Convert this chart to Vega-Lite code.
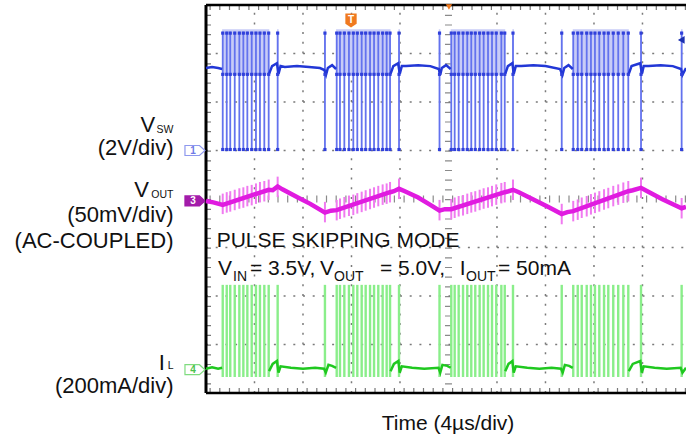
{
"$schema": "https://vega.github.io/schema/vega-lite/v6.json",
"width": 480, "height": 388,
"autosize": {"type": "none"},
"padding": {"left": 206, "top": 5, "right": 0, "bottom": 45},
"background": "white",
"config": {"view": {"stroke": null}, "text": {"font": "Liberation Sans"}},
"datasets": {
"one": [{}],
"gx": [{"t":4},{"t":8},{"t":12},{"t":16},{"t":24},{"t":28},{"t":32},{"t":36}],
"gy": [{"v":1},{"v":2},{"v":3},{"v":5},{"v":6},{"v":7}],
"sh": [{"t0":1.33,"t1":5.22},{"t0":5.86,"t1":5.99},{"t0":9.76,"t1":9.89},{"t0":10.73,"t1":15.22},{"t0":15.87,"t1":16.0},{"t0":19.2,"t1":19.33},{"t0":20.18,"t1":24.68},{"t0":25.27,"t1":25.4},{"t0":29.28,"t1":29.41},{"t0":30.25,"t1":34.87},{"t0":35.82,"t1":35.96},{"t0":39.18,"t1":39.31}],
"p": [
{"t":1.38,"vo":3.90},{"t":1.71,"vo":3.93},{"t":2.00,"vo":3.95},{"t":2.37,"vo":3.98},{"t":2.75,"vo":4.01},{"t":3.08,"vo":4.03},{"t":3.41,"vo":4.06},{"t":3.77,"vo":4.08},{"t":4.12,"vo":4.11},{"t":4.45,"vo":4.14},{"t":4.81,"vo":4.16},{"t":5.17,"vo":4.19},
{"t":5.91,"vo":4.25},{"t":9.81,"vo":3.73},
{"t":10.78,"vo":3.77},{"t":11.05,"vo":3.80},{"t":11.41,"vo":3.83},{"t":11.79,"vo":3.86},{"t":12.15,"vo":3.88},{"t":12.48,"vo":3.91},{"t":12.84,"vo":3.94},{"t":13.17,"vo":3.97},{"t":13.53,"vo":4.00},{"t":13.86,"vo":4.03},{"t":14.21,"vo":4.06},{"t":14.57,"vo":4.09},{"t":14.90,"vo":4.11},{"t":15.18,"vo":4.14},
{"t":15.92,"vo":4.21},{"t":19.26,"vo":3.77},
{"t":20.23,"vo":3.79},{"t":20.51,"vo":3.82},{"t":20.84,"vo":3.85},{"t":21.20,"vo":3.87},{"t":21.55,"vo":3.90},{"t":21.88,"vo":3.93},{"t":22.21,"vo":3.95},{"t":22.57,"vo":3.98},{"t":22.90,"vo":4.01},{"t":23.26,"vo":4.03},{"t":23.59,"vo":4.06},{"t":23.94,"vo":4.09},{"t":24.36,"vo":4.12},{"t":24.64,"vo":4.14},
{"t":25.32,"vo":4.19},{"t":29.34,"vo":3.69},
{"t":30.29,"vo":3.75},{"t":30.66,"vo":3.78},{"t":30.99,"vo":3.82},{"t":31.40,"vo":3.85},{"t":31.75,"vo":3.89},{"t":32.08,"vo":3.92},{"t":32.44,"vo":3.95},{"t":32.83,"vo":3.99},{"t":33.18,"vo":4.02},{"t":33.59,"vo":4.06},{"t":34.00,"vo":4.09},{"t":34.42,"vo":4.13},{"t":34.83,"vo":4.16},
{"t":35.88,"vo":4.23},{"t":39.23,"vo":3.81}],
"bl": [
{"s":"a","t":0,"v":6.70},{"s":"a","t":0.5,"v":6.72},{"s":"a","t":1.0,"v":6.70},{"s":"a","t":1.33,"v":6.68},
{"s":"b","t":5.2,"v":6.58},{"s":"b","t":5.45,"v":6.74},{"s":"b","t":5.85,"v":6.8},{"s":"b","t":5.98,"v":6.58},{"s":"b","t":6.15,"v":6.74},{"s":"b","t":6.5,"v":6.72},{"s":"b","t":7.5,"v":6.74},{"s":"b","t":8.5,"v":6.72},{"s":"b","t":9.4,"v":6.7},{"s":"b","t":9.76,"v":6.66},{"s":"b","t":9.9,"v":6.56},{"s":"b","t":10.05,"v":6.7},{"s":"b","t":10.4,"v":6.76},{"s":"b","t":10.73,"v":6.68},
{"s":"c","t":15.22,"v":6.58},{"s":"c","t":15.45,"v":6.74},{"s":"c","t":15.85,"v":6.8},{"s":"c","t":15.98,"v":6.58},{"s":"c","t":16.15,"v":6.74},{"s":"c","t":16.5,"v":6.74},{"s":"c","t":17.5,"v":6.76},{"s":"c","t":18.5,"v":6.74},{"s":"c","t":19.2,"v":6.68},{"s":"c","t":19.32,"v":6.56},{"s":"c","t":19.45,"v":6.7},{"s":"c","t":19.8,"v":6.76},{"s":"c","t":20.18,"v":6.68},
{"s":"d","t":24.68,"v":6.58},{"s":"d","t":24.9,"v":6.74},{"s":"d","t":25.27,"v":6.8},{"s":"d","t":25.38,"v":6.58},{"s":"d","t":25.55,"v":6.74},{"s":"d","t":26.0,"v":6.74},{"s":"d","t":27.0,"v":6.76},{"s":"d","t":28.0,"v":6.74},{"s":"d","t":29.2,"v":6.68},{"s":"d","t":29.4,"v":6.56},{"s":"d","t":29.55,"v":6.7},{"s":"d","t":29.9,"v":6.76},{"s":"d","t":30.25,"v":6.68},
{"s":"e","t":34.87,"v":6.58},{"s":"e","t":35.1,"v":6.74},{"s":"e","t":35.82,"v":6.8},{"s":"e","t":35.95,"v":6.58},{"s":"e","t":36.1,"v":6.74},{"s":"e","t":36.5,"v":6.74},{"s":"e","t":37.5,"v":6.76},{"s":"e","t":38.5,"v":6.74},{"s":"e","t":39.18,"v":6.68},{"s":"e","t":39.3,"v":6.56},{"s":"e","t":39.59,"v":6.7}],
"gl": [
{"s":"a","t":0,"v":0.5},{"s":"a","t":0.5,"v":0.53},{"s":"a","t":1.0,"v":0.5},{"s":"a","t":1.33,"v":0.52},
{"s":"b","t":5.2,"v":0.45},{"s":"b","t":5.5,"v":0.6},{"s":"b","t":5.85,"v":0.66},{"s":"b","t":5.98,"v":0.42},{"s":"b","t":6.15,"v":0.55},{"s":"b","t":7.0,"v":0.52},{"s":"b","t":8.0,"v":0.5},{"s":"b","t":9.0,"v":0.52},{"s":"b","t":9.74,"v":0.5},{"s":"b","t":9.88,"v":0.42},{"s":"b","t":10.1,"v":0.58},{"s":"b","t":10.4,"v":0.56},{"s":"b","t":10.73,"v":0.52},
{"s":"c","t":15.22,"v":0.45},{"s":"c","t":15.5,"v":0.6},{"s":"c","t":15.87,"v":0.66},{"s":"c","t":15.98,"v":0.42},{"s":"c","t":16.15,"v":0.55},{"s":"c","t":17.0,"v":0.52},{"s":"c","t":18.0,"v":0.5},{"s":"c","t":19.18,"v":0.52},{"s":"c","t":19.32,"v":0.42},{"s":"c","t":19.5,"v":0.58},{"s":"c","t":19.9,"v":0.56},{"s":"c","t":20.18,"v":0.52},
{"s":"d","t":24.68,"v":0.45},{"s":"d","t":24.95,"v":0.6},{"s":"d","t":25.27,"v":0.66},{"s":"d","t":25.38,"v":0.42},{"s":"d","t":25.55,"v":0.55},{"s":"d","t":26.5,"v":0.52},{"s":"d","t":27.5,"v":0.5},{"s":"d","t":28.5,"v":0.52},{"s":"d","t":29.28,"v":0.5},{"s":"d","t":29.42,"v":0.42},{"s":"d","t":29.6,"v":0.58},{"s":"d","t":29.95,"v":0.56},{"s":"d","t":30.25,"v":0.52},
{"s":"e","t":34.87,"v":0.45},{"s":"e","t":35.2,"v":0.6},{"s":"e","t":35.82,"v":0.66},{"s":"e","t":35.95,"v":0.42},{"s":"e","t":36.1,"v":0.55},{"s":"e","t":37.0,"v":0.52},{"s":"e","t":38.0,"v":0.5},{"s":"e","t":39.15,"v":0.52},{"s":"e","t":39.3,"v":0.42},{"s":"e","t":39.59,"v":0.52}],
"mv": [
{"t":0,"v":3.96},{"t":0.6,"v":3.93},{"t":1.38,"v":3.88},{"t":5.17,"v":4.19},{"t":5.5,"v":4.18},{"t":5.91,"v":4.26},{"t":6.3,"v":4.2},{"t":7.5,"v":4.04},{"t":8.6,"v":3.9},{"t":9.4,"v":3.78},{"t":9.81,"v":3.72},{"t":10.3,"v":3.76},{"t":10.78,"v":3.77},{"t":15.18,"v":4.14},{"t":15.5,"v":4.16},{"t":15.92,"v":4.21},{"t":16.4,"v":4.16},{"t":17.5,"v":4.03},{"t":18.5,"v":3.88},{"t":19.26,"v":3.76},{"t":19.7,"v":3.79},{"t":20.23,"v":3.79},{"t":24.64,"v":4.14},{"t":24.95,"v":4.16},{"t":25.32,"v":4.19},{"t":25.8,"v":4.14},{"t":27.0,"v":3.99},{"t":28.2,"v":3.84},{"t":29.34,"v":3.69},{"t":29.8,"v":3.73},{"t":30.29,"v":3.75},{"t":34.83,"v":4.16},{"t":35.2,"v":4.18},{"t":35.88,"v":4.23},{"t":36.4,"v":4.16},{"t":37.6,"v":4.0},{"t":38.6,"v":3.88},{"t":39.23,"v":3.81},{"t":39.59,"v":3.84}],
"tags": [{"ch":"1","t":-0.91,"v":5.0},{"ch":"3","t":-0.91,"v":3.96},{"ch":"4","t":-0.91,"v":0.48}],
"lblL": [{"txt":"V","t":-4.2,"v":5.39},{"txt":"(2V/div)","t":-2.68,"v":4.91},{"txt":"V","t":-4.7,"v":4.05},{"txt":"(50mV/div)","t":-2.68,"v":3.53},{"txt":"(AC-COUPLED)","t":-2.68,"v":3.0},{"txt":"I","t":-3.4,"v":0.48},{"txt":"(200mA/div)","t":-2.68,"v":0.0}],
"subL": [{"txt":"SW","t":-2.68,"v":5.37},{"txt":"OUT","t":-2.68,"v":4.02},{"txt":"L","t":-2.68,"v":0.5}],
"lblP": [{"txt":"PULSE SKIPPING MODE","t":0.88,"v":3.02},{"txt":"V","t":0.99,"v":2.43},{"txt":"= 3.5V,","t":3.63,"v":2.43},{"txt":"V","t":9.40,"v":2.43},{"txt":"= 5.0V,","t":14.35,"v":2.43},{"txt":"I","t":20.93,"v":2.43},{"txt":"= 50mA","t":24.08,"v":2.43}],
"subP": [{"txt":"IN","t":2.23,"v":2.31},{"txt":"OUT","t":10.56,"v":2.31},{"txt":"OUT","t":21.45,"v":2.31}],
"ttl": [{"txt":"Time (4µs/div)","t":19.96,"v":-0.77}]
},
"layer": [
{"data":{"name":"one"},"mark":{"type":"rule","color":"#ffffff","strokeWidth":1,"opacity":0},
 "encoding":{"x":{"datum":0,"type":"quantitative","scale":{"domain":[0,39.59],"nice":false,"zero":false},"axis":null}}},
{"data":{"name":"one"},"mark":{"type":"rule","color":"#8a8a8a","strokeWidth":7,"strokeDash":[1.2,8.5]},
 "encoding":{"x":{"datum":20,"type":"quantitative","scale":{"domain":[0,39.59],"nice":false,"zero":false},"axis":null}}},
{"data":{"name":"one"},"mark":{"type":"rule","color":"#8a8a8a","strokeWidth":7,"strokeDash":[1.2,8.5]},
 "encoding":{"y":{"datum":4,"type":"quantitative","scale":{"domain":[0,8],"nice":false,"zero":false},"axis":null}}},
{"data":{"name":"gx"},"mark":{"type":"rule","color":"#7a7a7a","strokeWidth":1.5,"strokeDash":[2,7.7]},
 "encoding":{"x":{"field":"t","type":"quantitative","scale":{"domain":[0,39.59],"nice":false,"zero":false},"axis":null},
  "y":{"datum":0,"type":"quantitative","scale":{"domain":[0,8],"nice":false,"zero":false},"axis":null},"y2":{"datum":8}}},
{"data":{"name":"gy"},"mark":{"type":"rule","color":"#7a7a7a","strokeWidth":1.5,"strokeDash":[2,7.7]},
 "encoding":{"y":{"field":"v","type":"quantitative","scale":{"domain":[0,8],"nice":false,"zero":false},"axis":null},
  "x":{"datum":0,"type":"quantitative","scale":{"domain":[0,39.59],"nice":false,"zero":false},"axis":null},"x2":{"datum":39.59}}},
{"data":{"name":"one"},"mark":{"type":"rule","color":"#777","strokeWidth":10,"strokeDash":[1.2,8.5],"clip":true},
 "encoding":{"y":{"datum":0,"type":"quantitative","scale":{"domain":[0,8],"nice":false,"zero":false},"axis":null}}},
{"data":{"name":"one"},"mark":{"type":"rule","color":"#777","strokeWidth":10,"strokeDash":[1.2,8.5],"clip":true},
 "encoding":{"y":{"datum":8,"type":"quantitative","scale":{"domain":[0,8],"nice":false,"zero":false},"axis":null}}},
{"data":{"name":"one"},"mark":{"type":"rule","color":"#777","strokeWidth":10,"strokeDash":[1.2,8.5],"clip":true},
 "encoding":{"x":{"datum":0,"type":"quantitative","scale":{"domain":[0,39.59],"nice":false,"zero":false},"axis":null}}},
{"data":{"name":"one"},"mark":{"type":"rule","color":"#000","strokeWidth":2.5},
 "encoding":{"y":{"datum":8,"type":"quantitative","scale":{"domain":[0,8],"nice":false,"zero":false},"axis":null}}},
{"data":{"name":"one"},"mark":{"type":"rule","color":"#000","strokeWidth":2.5},
 "encoding":{"y":{"datum":0,"type":"quantitative","scale":{"domain":[0,8],"nice":false,"zero":false},"axis":null}}},
{"data":{"name":"one"},"mark":{"type":"rule","color":"#000","strokeWidth":3},
 "encoding":{"x":{"datum":0,"type":"quantitative","scale":{"domain":[0,39.59],"nice":false,"zero":false},"axis":null}}},
{"data":{"name":"sh"},"mark":{"type":"rect","color":"#c8ccf7"},
 "encoding":{"x":{"field":"t0","type":"quantitative","scale":{"domain":[0,39.59],"nice":false,"zero":false},"axis":null},"x2":{"field":"t1"},
  "y":{"datum":6.55,"type":"quantitative","scale":{"domain":[0,8],"nice":false,"zero":false},"axis":null},"y2":{"datum":7.5}}},
{"data":{"name":"p"},"mark":{"type":"rule","color":"#6372ee","strokeWidth":1.8},
 "encoding":{"x":{"field":"t","type":"quantitative","scale":{"domain":[0,39.59],"nice":false,"zero":false},"axis":null},
  "y":{"datum":5.01,"type":"quantitative","scale":{"domain":[0,8],"nice":false,"zero":false},"axis":null},"y2":{"datum":7.45}}},
{"data":{"name":"bl"},"mark":{"type":"line","color":"#2237d6","strokeWidth":2.5},
 "encoding":{"x":{"field":"t","type":"quantitative","scale":{"domain":[0,39.59],"nice":false,"zero":false},"axis":null},
  "y":{"field":"v","type":"quantitative","scale":{"domain":[0,8],"nice":false,"zero":false},"axis":null},"detail":{"field":"s"}}},
{"data":{"name":"p"},"mark":{"type":"point","shape":"square","filled":true,"color":"#3040da","size":10,"opacity":1},
 "encoding":{"x":{"field":"t","type":"quantitative","scale":{"domain":[0,39.59],"nice":false,"zero":false},"axis":null},
  "y":{"datum":7.42,"type":"quantitative","scale":{"domain":[0,8],"nice":false,"zero":false},"axis":null}}},
{"data":{"name":"p"},"mark":{"type":"point","shape":"square","filled":true,"color":"#3040da","size":10,"opacity":1},
 "encoding":{"x":{"field":"t","type":"quantitative","scale":{"domain":[0,39.59],"nice":false,"zero":false},"axis":null},
  "y":{"datum":6.57,"type":"quantitative","scale":{"domain":[0,8],"nice":false,"zero":false},"axis":null}}},
{"data":{"name":"p"},"mark":{"type":"point","shape":"square","filled":true,"color":"#3040da","size":10,"opacity":1},
 "encoding":{"x":{"field":"t","type":"quantitative","scale":{"domain":[0,39.59],"nice":false,"zero":false},"axis":null},
  "y":{"datum":5.02,"type":"quantitative","scale":{"domain":[0,8],"nice":false,"zero":false},"axis":null}}},
{"data":{"name":"p"},"mark":{"type":"point","shape":"M0,-1V1","filled":false,"stroke":"#f07af0","strokeWidth":2,"size":420,"opacity":1},
 "encoding":{"x":{"field":"t","type":"quantitative","scale":{"domain":[0,39.59],"nice":false,"zero":false},"axis":null},
  "y":{"field":"vo","type":"quantitative","scale":{"domain":[0,8],"nice":false,"zero":false},"axis":null}}},
{"data":{"name":"mv"},"mark":{"type":"line","color":"#e01be0","strokeWidth":4.5},
 "encoding":{"x":{"field":"t","type":"quantitative","scale":{"domain":[0,39.59],"nice":false,"zero":false},"axis":null},
  "y":{"field":"v","type":"quantitative","scale":{"domain":[0,8],"nice":false,"zero":false},"axis":null}}},
{"data":{"name":"p"},"mark":{"type":"rule","color":"#8aee8a","strokeWidth":2.4},
 "encoding":{"x":{"field":"t","type":"quantitative","scale":{"domain":[0,39.59],"nice":false,"zero":false},"axis":null},
  "y":{"datum":0.33,"type":"quantitative","scale":{"domain":[0,8],"nice":false,"zero":false},"axis":null},"y2":{"datum":2.23}}},
{"data":{"name":"gl"},"mark":{"type":"line","color":"#1fc81f","strokeWidth":2.5},
 "encoding":{"x":{"field":"t","type":"quantitative","scale":{"domain":[0,39.59],"nice":false,"zero":false},"axis":null},
  "y":{"field":"v","type":"quantitative","scale":{"domain":[0,8],"nice":false,"zero":false},"axis":null},"detail":{"field":"s"}}},
{"data":{"name":"tags"},"mark":{"type":"point","shape":"M-1,-0.5H0.45L1,0L0.45,0.5H-1Z","filled":true,"size":400,"strokeWidth":1.2,"opacity":1},
 "encoding":{"x":{"field":"t","type":"quantitative","scale":{"domain":[0,39.59],"nice":false,"zero":false},"axis":null},
  "y":{"field":"v","type":"quantitative","scale":{"domain":[0,8],"nice":false,"zero":false},"axis":null},
  "fill":{"field":"ch","type":"nominal","scale":{"domain":["1","3","4"],"range":["#ffffff","#a31caa","#ffffff"]},"legend":null},
  "stroke":{"field":"ch","type":"nominal","scale":{"domain":["1","3","4"],"range":["#8e98ee","#a31caa","#7fdc7f"]},"legend":null}}},
{"data":{"name":"tags"},"mark":{"type":"text","fontSize":10,"fontWeight":"bold","dx":-2,"baseline":"middle","align":"center"},
 "encoding":{"x":{"field":"t","type":"quantitative","scale":{"domain":[0,39.59],"nice":false,"zero":false},"axis":null},
  "y":{"field":"v","type":"quantitative","scale":{"domain":[0,8],"nice":false,"zero":false},"axis":null},
  "text":{"field":"ch"},
  "color":{"field":"ch","type":"nominal","scale":{"domain":["1","3","4"],"range":["#6f7ae6","#ffffff","#4cc24c"]},"legend":null}}},
{"data":{"name":"one"},"mark":{"type":"point","shape":"M-0.8,-1H0.8V0.45L0,1L-0.8,0.45Z","filled":true,"color":"#f07a1f","size":200,"opacity":1},
 "encoding":{"x":{"datum":11.96,"type":"quantitative","scale":{"domain":[0,39.59],"nice":false,"zero":false},"axis":null},
  "y":{"datum":7.68,"type":"quantitative","scale":{"domain":[0,8],"nice":false,"zero":false},"axis":null}}},
{"data":{"name":"one"},"mark":{"type":"text","text":"T","fontSize":10,"fontWeight":"bold","color":"white","baseline":"middle","align":"center","dy":-1},
 "encoding":{"x":{"datum":11.96,"type":"quantitative","scale":{"domain":[0,39.59],"nice":false,"zero":false},"axis":null},
  "y":{"datum":7.68,"type":"quantitative","scale":{"domain":[0,8],"nice":false,"zero":false},"axis":null}}},
{"data":{"name":"one"},"mark":{"type":"point","shape":"triangle-down","filled":true,"color":"#f07a1f","size":40,"opacity":1},
 "encoding":{"x":{"datum":20.04,"type":"quantitative","scale":{"domain":[0,39.59],"nice":false,"zero":false},"axis":null},
  "y":{"datum":7.96,"type":"quantitative","scale":{"domain":[0,8],"nice":false,"zero":false},"axis":null}}},
{"data":{"name":"one"},"mark":{"type":"point","shape":"triangle-left","filled":true,"color":"#1a2fb0","size":60,"opacity":1},
 "encoding":{"x":{"datum":39.2,"type":"quantitative","scale":{"domain":[0,39.59],"nice":false,"zero":false},"axis":null},
  "y":{"datum":7.28,"type":"quantitative","scale":{"domain":[0,8],"nice":false,"zero":false},"axis":null}}},
{"data":{"name":"lblL"},"mark":{"type":"text","fontSize":22,"align":"right","baseline":"alphabetic","color":"#111"},
 "encoding":{"x":{"field":"t","type":"quantitative","scale":{"domain":[0,39.59],"nice":false,"zero":false},"axis":null},
  "y":{"field":"v","type":"quantitative","scale":{"domain":[0,8],"nice":false,"zero":false},"axis":null},"text":{"field":"txt"}}},
{"data":{"name":"subL"},"mark":{"type":"text","fontSize":10.5,"align":"right","baseline":"alphabetic","color":"#111"},
 "encoding":{"x":{"field":"t","type":"quantitative","scale":{"domain":[0,39.59],"nice":false,"zero":false},"axis":null},
  "y":{"field":"v","type":"quantitative","scale":{"domain":[0,8],"nice":false,"zero":false},"axis":null},"text":{"field":"txt"}}},
{"data":{"name":"lblP"},"mark":{"type":"text","fontSize":21,"align":"left","baseline":"alphabetic","color":"#111"},
 "encoding":{"x":{"field":"t","type":"quantitative","scale":{"domain":[0,39.59],"nice":false,"zero":false},"axis":null},
  "y":{"field":"v","type":"quantitative","scale":{"domain":[0,8],"nice":false,"zero":false},"axis":null},"text":{"field":"txt"}}},
{"data":{"name":"subP"},"mark":{"type":"text","fontSize":14,"align":"left","baseline":"alphabetic","color":"#111"},
 "encoding":{"x":{"field":"t","type":"quantitative","scale":{"domain":[0,39.59],"nice":false,"zero":false},"axis":null},
  "y":{"field":"v","type":"quantitative","scale":{"domain":[0,8],"nice":false,"zero":false},"axis":null},"text":{"field":"txt"}}},
{"data":{"name":"ttl"},"mark":{"type":"text","fontSize":21,"align":"center","baseline":"alphabetic","color":"#111"},
 "encoding":{"x":{"field":"t","type":"quantitative","scale":{"domain":[0,39.59],"nice":false,"zero":false},"axis":null},
  "y":{"field":"v","type":"quantitative","scale":{"domain":[0,8],"nice":false,"zero":false},"axis":null},"text":{"field":"txt"}}}
]
}
